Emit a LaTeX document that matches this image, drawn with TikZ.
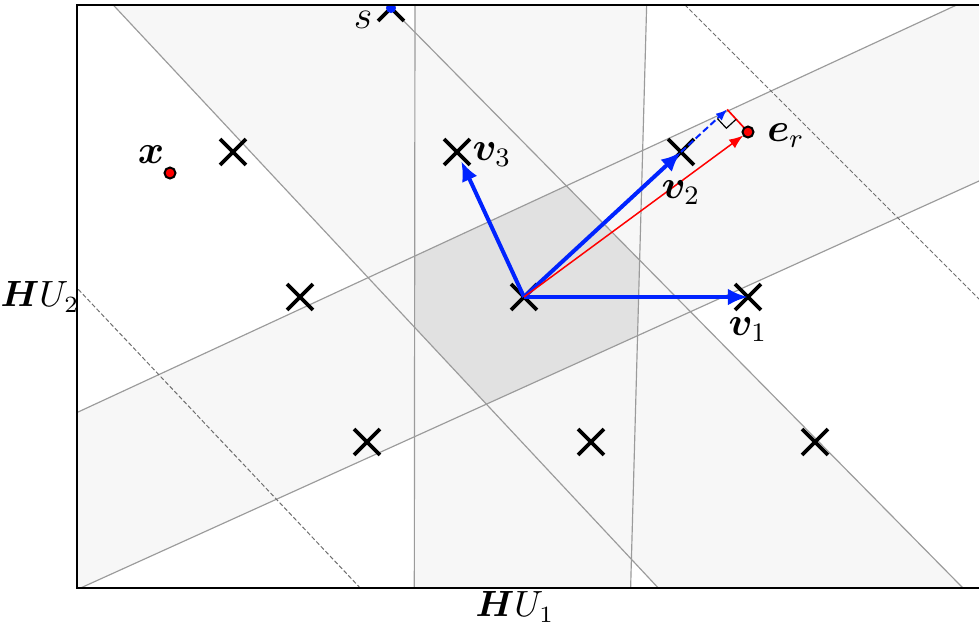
\documentclass[tikz,border=0pt]{standalone}
\usepackage{amsmath,bm}
\usetikzlibrary{arrows.meta,calc,shapes.misc}
\definecolor{lightfill}{RGB}{247,247,247}
\definecolor{darkfill}{RGB}{225,225,225}
\definecolor{linegray}{RGB}{155,155,155}
\definecolor{dashgray}{RGB}{110,110,110}
\definecolor{vblue}{RGB}{0,35,255}
\begin{document}
\begin{tikzpicture}[x=0.3pt,y=-0.3pt,
  lattpt/.style={cross out,draw=black,line width=1.15pt,minimum size=6.6pt,inner sep=0pt},
  gline/.style={draw=linegray,line width=0.35pt},
  dline/.style={draw=dashgray,line width=0.3pt,dash pattern=on 1.3pt off 0.7pt},
  basis/.style={draw=vblue,line width=1.2pt,-{Latex[length=6pt,width=5pt]}},
  redarrow/.style={draw=red,line width=0.45pt,-{Latex[length=4.2pt,width=3.2pt]}},
  projarrow/.style={draw=vblue,line width=0.6pt,dash pattern=on 2pt off 1pt,-{Latex[length=3.4pt,width=2.8pt]}},
  dot/.style={circle,draw=black,line width=0.6pt,fill=red,minimum size=3.3pt,inner sep=0pt},
  lbl/.style={inner sep=0pt,font=\fontsize{12}{14}\selectfont},
  axlbl/.style={inner sep=0pt,font=\fontsize{10.6}{13}\selectfont}]
\useasboundingbox (0,0) rectangle (979,630);
% lattice points and other positions
\coordinate (C) at (524,297);
\coordinate (P1) at (748,297);
\coordinate (P2) at (681,152);
\coordinate (P3) at (457,152);
\coordinate (P4) at (233,152);
\coordinate (P5) at (300,297);
\coordinate (P6) at (367,442);
\coordinate (P7) at (591,442);
\coordinate (P8) at (815,442);
\coordinate (S) at (391,8);
\coordinate (X) at (170,173);
\coordinate (Er) at (748,132);
\begin{scope}
  \clip (77,5) rectangle (979,588);
  % light strips
  \fill[lightfill] (415,0) -- (646.8,0) -- (630.3,600) -- (414.3,600) -- cycle;
  \fill[lightfill] (108.6,0) -- (383.1,0) -- (974.8,600) -- (669.5,600) -- cycle;
  \fill[lightfill] (60,420.4) -- (1000,-15.1) -- (1000,171.5) -- (60,597.3) -- cycle;
  % intersection
  \begin{scope}
    \clip (415,0) -- (646.8,0) -- (630.3,600) -- (414.3,600) -- cycle;
    \clip (108.6,0) -- (383.1,0) -- (974.8,600) -- (669.5,600) -- cycle;
    \fill[darkfill] (60,420.4) -- (1000,-15.1) -- (1000,171.5) -- (60,597.3) -- cycle;
  \end{scope}
  % boundary lines
  \draw[gline] (415,0) -- (414.3,600);
  \draw[gline] (646.8,0) -- (630.3,600);
  \draw[gline] (108.6,0) -- (669.5,600);
  \draw[gline] (383.1,0) -- (974.8,600);
  \draw[gline] (60,420.4) -- (1000,-15.1);
  \draw[gline] (60,597.3) -- (1000,171.5);
  \draw[dline] (680,0) -- (990,310);
  \draw[dline] (60,270) -- (364,592);
  % lattice points
  \node[lattpt] (c0) at (C) {};
  \node[lattpt] (x1) at (P1) {};
  \node[lattpt] (x2) at (P2) {};
  \node[lattpt] (x3) at (P3) {};
  \node[lattpt] (x4) at (P4) {};
  \node[lattpt] (x5) at (P5) {};
  \node[lattpt] (x6) at (P6) {};
  \node[lattpt] (x7) at (P7) {};
  \node[lattpt] (x8) at (P8) {};
  \node[lattpt] (xs) at (S) {};
  \node[circle,fill=vblue,minimum size=3pt,inner sep=0pt] (sdot) at (S) {};
\end{scope}
% basis vectors
\draw[basis] (C) -- (P1);
\draw[basis] (C) -- (P2);
\draw[basis,shorten >=3pt] (C) -- (P3);
% received point and projection
\draw[redarrow,shorten >=1.8pt] (C) -- (Er);
\coordinate (Pr) at ($(C)!(Er)!(P2)$);
\draw[projarrow] (P2) -- (Pr);
\draw[red,line width=0.5pt] (Pr) -- (Er);
\coordinate (ra) at ($(Pr)!4pt!(P2)$);
\coordinate (rb) at ($(Pr)!4pt!(Er)$);
\draw[black,line width=0.35pt] (ra) -- ($(ra)+(rb)-(Pr)$) -- (rb);
\node[dot] (er) at (Er) {};
\node[dot] (xd) at (X) {};
% frame
\draw[line width=0.55pt] (979,5) -- (76.8,5) -- (76.8,588) -- (979,588);
% labels
\node[lbl] (ls) at (363,20) {$s$};
\node[lbl] (lx) at (151,155) {$\bm{x}$};
\node[lbl] (lv3) at (492,155) {$\bm{v}_3$};
\node[lbl] (lv2) at (681,193) {$\bm{v}_2$};
\node[lbl] (lv1) at (748,330) {$\bm{v}_1$};
\node[lbl] (ler) at (786,136) {$\bm{e}_r$};
\node[axlbl] (lhu2) at (40,297) {$\bm{H}U_2$};
\node[axlbl] (lhu1) at (515,607) {$\bm{H}U_1$};
\end{tikzpicture}
\end{document}
